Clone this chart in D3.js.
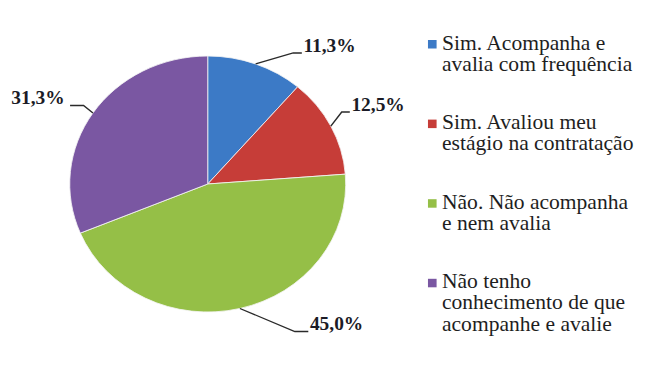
<!DOCTYPE html>
<html>
<head>
<meta charset="utf-8">
<script src="https://cdn.jsdelivr.net/npm/d3@7"></script>
</head>
<body style="margin:0">
<svg width="665" height="366"></svg>
<script>
// data
const categories = [
    ["Sim. Acompanha e", "avalia com frequência"],
    ["Sim. Avaliou meu", "estágio na contratação"],
    ["Não. Não acompanha", "e nem avalia"],
    ["Não tenho", "conhecimento de que", "acompanhe e avalie"]
];
const values = [11.3, 12.5, 45.0, 31.3];
const colors = ["#3c7ac6", "#c63d38", "#95bf47", "#7a57a2"];

// the picture is a bit wider than tall, so draw in a squeezed space and stretch
const stretchX = 1.078;
const cx = 192.7, cy = 184, radius = 128;
const serifFont = "'Liberation Serif', 'Times New Roman', serif";

// where each label's leader line ends (elbow, end) and which side the text goes
const labelLayout = [
    {elbow: [272, 53], end: [280, 53], anchor: "start"},
    {elbow: [317, 112], end: [324.5, 112], anchor: "start"},
    {elbow: [273.5, 331.5], end: [286, 331.5], anchor: "start"},
    {elbow: [77.5, 105.5], end: [65, 105.5], anchor: "end"}
];

const ptBR = d3.formatLocale({decimal: ",", thousands: ".", grouping: [3], currency: ["R$", ""]});
const fmt = ptBR.format(".1f");

const svg = d3.select("svg");
const g = svg.append("g").attr("transform", `scale(${stretchX},1)`);

const pie = d3.pie().sort(null).value(d => d);
const arcs = pie(values);

const arc = d3.arc().innerRadius(0).outerRadius(radius);
const edgeArc = d3.arc().innerRadius(radius).outerRadius(radius);

const pieG = g.append("g").attr("transform", `translate(${cx}, ${cy})`);

pieG.selectAll("path.slice").data(arcs)
    .enter().append("path")
    .attr("class", "slice")
    .attr("d", arc)
    .attr("fill", (d, i) => colors[i])
    .attr("stroke", "#f4f4f4")
    .attr("stroke-width", 0.8);

// leader lines
g.selectAll("polyline.leader").data(arcs)
    .enter().append("polyline")
    .attr("class", "leader")
    .attr("points", (d, i) => {
        const p = edgeArc.centroid(d);
        const l = labelLayout[i];
        return [[p[0] + cx, p[1] + cy], l.elbow, l.end].map(q => q.join(",")).join(" ");
    })
    .attr("fill", "none")
    .attr("stroke", "#2a2a2a")
    .attr("stroke-width", 1.3);

// percent labels
g.selectAll("text.pct").data(arcs)
    .enter().append("text")
    .attr("class", "pct")
    .attr("x", (d, i) => labelLayout[i].end[0] + (labelLayout[i].anchor === "start" ? 1.5 : -5))
    .attr("y", (d, i) => labelLayout[i].end[1] - 1.3)
    .attr("text-anchor", (d, i) => labelLayout[i].anchor)
    .style("font-family", serifFont, "important")
    .style("font-weight", "bold", "important")
    .style("font-size", "18px", "important")
    .attr("fill", "#1b1b26")
    .text(d => fmt(d.data) + "%");

// legend
const legendX = 397, legendTop = 49.5, itemGap = 79.6, lineGap = 21.2;
const legend = g.append("g");
const items = legend.selectAll("g.item").data(categories)
    .enter().append("g")
    .attr("class", "item")
    .attr("transform", (d, i) => `translate(${legendX}, ${legendTop + i * itemGap})`);

items.append("rect")
    .attr("x", 0)
    .attr("y", -9.5)
    .attr("width", 8)
    .attr("height", 8.5)
    .attr("fill", (d, i) => colors[i]);

items.append("text")
    .attr("fill", "#1e1e1e")
    .selectAll("tspan").data(d => d)
    .enter().append("tspan")
    .attr("x", 13)
    .attr("y", (d, j) => j * lineGap)
    .style("font-family", serifFont, "important")
    .style("font-size", "20px", "important")
    .text(d => d);
</script>
</body>
</html>
